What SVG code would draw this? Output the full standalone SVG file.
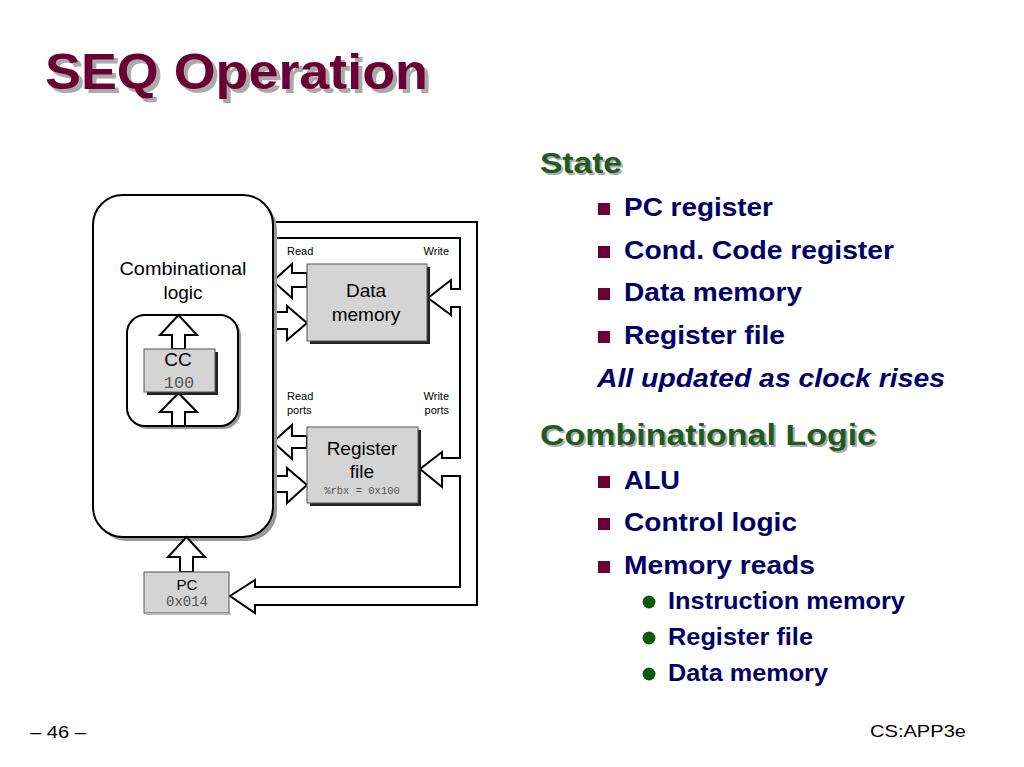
<svg xmlns="http://www.w3.org/2000/svg" width="1024" height="767" viewBox="0 0 1024 767">
<style>
text{font-family:"Liberation Sans",Arial,sans-serif}
.box{fill:#d4d4d4;stroke:#555;stroke-width:1}
.sh{fill:#222}
.ar{fill:#fff;stroke:#000;stroke-width:2;stroke-linejoin:miter}
.lbl{font-size:19px;fill:#000;text-anchor:middle}
.mono{font-family:"Liberation Mono","Courier New",monospace;fill:#555;text-anchor:middle}
.sm{font-size:11px;fill:#000}
.b1{font-size:26px;font-weight:bold;fill:#000066}
.b2{font-size:23px;font-weight:bold;fill:#000066}
.hd{font-size:30px;font-weight:bold;fill:#1f5a1f}
.hds{font-size:30px;font-weight:bold;fill:#aaa}
</style>
<rect width="1024" height="767" fill="#fff"/>
<g id="title">
<text x="49" y="93" font-size="50" font-weight="bold" fill="#aaa" textLength="383" lengthAdjust="spacingAndGlyphs">SEQ Operation</text>
<text x="45" y="89" font-size="50" font-weight="bold" fill="#6b0034" textLength="383" lengthAdjust="spacingAndGlyphs">SEQ Operation</text>
</g>
<g id="connectors">
<path class="ar" d="M273,222 L477,222 L477,605 L255,605 L255,613 L230,596 L255,580 L255,587 L460,587 L460,476 L442,476 L442,487 L420,469 L442,452 L442,458 L460,458 L460,307 L451,307 L451,315 L428,298 L451,280 L451,289 L460,289 L460,238 L273,238 Z"/>
<path class="ar" d="M307,273 L292,273 L292,264 L273,281 L292,298 L292,287 L307,287 Z"/>
<path class="ar" d="M270,312 L287,312 L287,306 L307,323 L287,340 L287,329 L270,329 Z"/>
<path class="ar" d="M307,436 L292,436 L292,425 L273,442 L292,459 L292,448 L307,448 Z"/>
<path class="ar" d="M270,476 L287,476 L287,468 L307,485 L287,503 L287,492 L270,492 Z"/>
</g>
<g id="comb">
<rect x="97" y="199" width="180" height="342" rx="30" fill="#999"/>
<rect x="93" y="195" width="180" height="342" rx="30" fill="#fff" stroke="#000" stroke-width="2"/>
<text class="lbl" x="183" y="275" textLength="127" lengthAdjust="spacingAndGlyphs">Combinational</text>
<text class="lbl" x="183" y="299">logic</text>
<rect x="130" y="318" width="111" height="111" rx="18" fill="#999"/>
<rect x="127" y="315" width="111" height="111" rx="18" fill="#fff" stroke="#000" stroke-width="2"/>
<path class="ar" d="M172,349 L172,335 L160,335 L178.5,315 L197,335 L185,335 L185,349 Z"/>
<path class="ar" d="M172,426 L172,412 L160,412 L178.5,393 L197,412 L185,412 L185,426 Z"/>
</g>
<g id="cc">
<rect class="sh" x="147" y="352" width="71" height="43"/>
<rect class="box" x="144" y="349" width="71" height="43"/>
<text class="lbl" x="178" y="366">CC</text>
<text class="mono" x="179" y="388" font-size="17">100</text>
</g>
<g id="dmem">
<rect class="sh" x="310" y="267" width="120" height="77"/>
<rect class="box" x="307" y="264" width="120" height="77"/>
<text class="lbl" x="366" y="297">Data</text>
<text class="lbl" x="366" y="321">memory</text>
</g>
<g id="regfile">
<rect class="sh" x="310" y="430" width="111" height="76"/>
<rect class="box" x="307" y="427" width="111" height="76"/>
<text class="lbl" x="362" y="455">Register</text>
<text class="lbl" x="362" y="478">file</text>
<text class="mono" x="362" y="494" font-size="10.5">%rbx = 0x100</text>
</g>
<g id="pc">
<path class="ar" d="M180,572 L180,557 L168,557 L186.5,537 L205,557 L193,557 L193,572 Z"/>
<rect class="box" x="144" y="572" width="85" height="41"/>
<rect x="146" y="613" width="85" height="2" fill="#bbb"/>
<text x="187" y="590" font-size="15" text-anchor="middle">PC</text>
<text class="mono" x="187" y="606" font-size="14">0x014</text>
</g>
<g id="labels">
<text class="sm" x="287" y="255">Read</text>
<text class="sm" x="449" y="255" text-anchor="end">Write</text>
<text class="sm" x="287" y="400">Read</text>
<text class="sm" x="287" y="414">ports</text>
<text class="sm" x="449" y="400" text-anchor="end">Write</text>
<text class="sm" x="449" y="414" text-anchor="end">ports</text>
</g>
<g id="bullets">
<text class="hds" x="542" y="175" textLength="82" lengthAdjust="spacingAndGlyphs">State</text>
<text class="hd" x="540" y="173" textLength="82" lengthAdjust="spacingAndGlyphs">State</text>
<g fill="#6b0034">
<rect x="598" y="203" width="12" height="12"/>
<rect x="598" y="246" width="12" height="12"/>
<rect x="598" y="288" width="12" height="12"/>
<rect x="598" y="331" width="12" height="12"/>
<rect x="598" y="476" width="12" height="12"/>
<rect x="598" y="518" width="12" height="12"/>
<rect x="598" y="561" width="12" height="12"/>
</g>
<text class="b1" x="624" y="216" textLength="149" lengthAdjust="spacingAndGlyphs">PC register</text>
<text class="b1" x="624" y="259" textLength="270" lengthAdjust="spacingAndGlyphs">Cond. Code register</text>
<text class="b1" x="624" y="301" textLength="178" lengthAdjust="spacingAndGlyphs">Data memory</text>
<text class="b1" x="624" y="344" textLength="161" lengthAdjust="spacingAndGlyphs">Register file</text>
<text class="b1" x="597" y="387" font-style="italic" textLength="348" lengthAdjust="spacingAndGlyphs">All updated as clock rises</text>
<text class="hds" x="542" y="447" textLength="336" lengthAdjust="spacingAndGlyphs">Combinational Logic</text>
<text class="hd" x="540" y="445" textLength="336" lengthAdjust="spacingAndGlyphs">Combinational Logic</text>
<text class="b1" x="624" y="489" textLength="56" lengthAdjust="spacingAndGlyphs">ALU</text>
<text class="b1" x="624" y="531" textLength="173" lengthAdjust="spacingAndGlyphs">Control logic</text>
<text class="b1" x="624" y="574" textLength="191" lengthAdjust="spacingAndGlyphs">Memory reads</text>
<g fill="#0a5a0a">
<circle cx="649" cy="602" r="6.5"/>
<circle cx="649" cy="638" r="6.5"/>
<circle cx="649" cy="674" r="6.5"/>
</g>
<text class="b2" x="668" y="609" textLength="237" lengthAdjust="spacingAndGlyphs">Instruction memory</text>
<text class="b2" x="668" y="645" textLength="145" lengthAdjust="spacingAndGlyphs">Register file</text>
<text class="b2" x="668" y="681" textLength="160" lengthAdjust="spacingAndGlyphs">Data memory</text>
</g>
<text x="30" y="738" font-size="17" fill="#000" textLength="56" lengthAdjust="spacingAndGlyphs">– 46 –</text>
<text x="870" y="737" font-size="17" fill="#000" textLength="96" lengthAdjust="spacingAndGlyphs">CS:APP3e</text>
</svg>
